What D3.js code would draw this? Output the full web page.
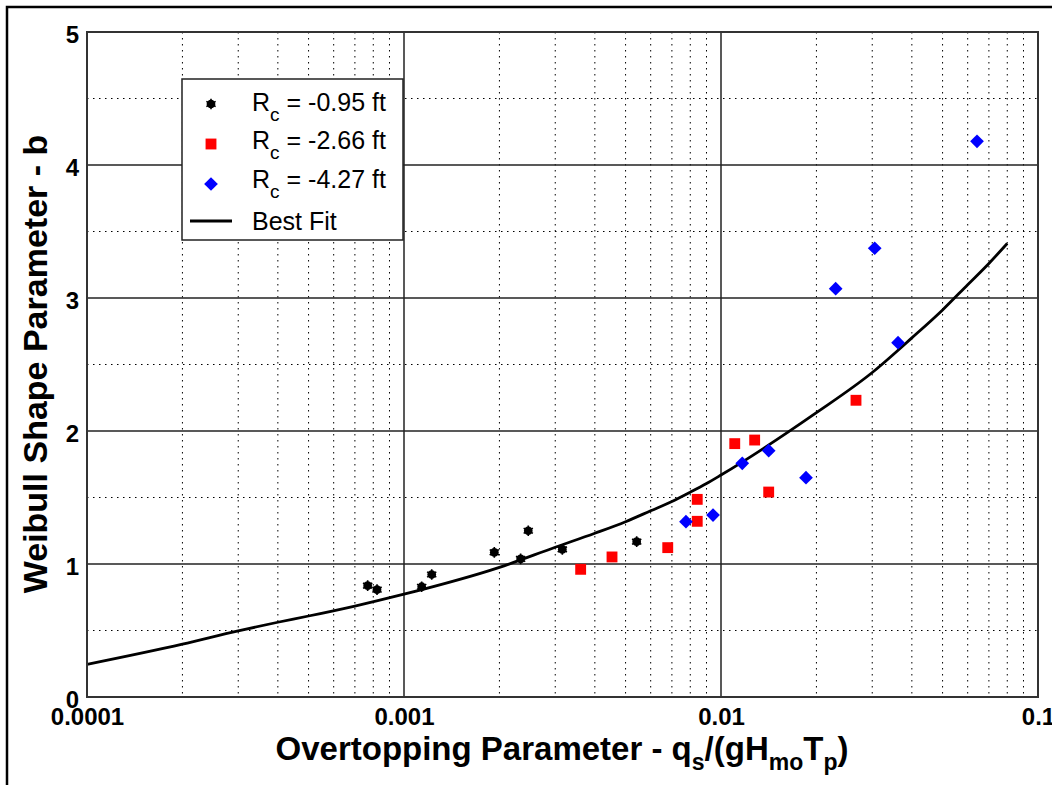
<!DOCTYPE html>
<html>
<head>
<meta charset="utf-8">
<script src="https://cdn.jsdelivr.net/npm/d3@7"></script>
<style>
  body { margin: 0; background: #fff; }
  svg { display: block; font-family: "Liberation Sans", Arial, sans-serif; }
</style>
</head>
<body>
<script>
'use strict';

// axis ticks
const xTickValues = [0.0001, 0.001, 0.01, 0.1];
const xTickLabels = ["0.0001", "0.001", "0.01", "0.1"];
const yTickValues = [0, 1, 2, 3, 4, 5];

// Rc = -0.95 ft
const blackX = [0.000768, 0.000822, 0.001137, 0.001223, 0.001927, 0.002333, 0.002466, 0.003158, 0.00542];
const blackY = [0.837, 0.807, 0.829, 0.921, 1.088, 1.038, 1.250, 1.110, 1.168];

// Rc = -2.66 ft
const redX = [0.003608, 0.004531, 0.006792, 0.008415, 0.008415, 0.01105, 0.01277, 0.01414, 0.02666];
const redY = [0.960, 1.053, 1.123, 1.486, 1.321, 1.905, 1.932, 1.541, 2.231];

// Rc = -4.27 ft
const blueX = [0.007753, 0.009437, 0.01167, 0.01414, 0.01854, 0.02300, 0.03054, 0.03618, 0.06421];
const blueY = [1.318, 1.368, 1.757, 1.852, 1.649, 3.070, 3.374, 2.664, 4.178];

// best fit curve
const fitX = [0.0001, 0.0002, 0.0003, 0.0004, 0.0005, 0.0007, 0.001, 0.002, 0.003, 0.004, 0.005,
  0.006, 0.007, 0.008, 0.009, 0.01, 0.02, 0.03, 0.04, 0.05, 0.06, 0.07, 0.08];
const fitY = [0.246, 0.398, 0.498, 0.562, 0.609, 0.684, 0.773, 0.975, 1.126, 1.231, 1.318,
  1.40, 1.47, 1.54, 1.605, 1.669, 2.138, 2.44, 2.70, 2.91, 3.10, 3.26, 3.41];

const legendLabels = ["-0.95 ft", "-2.66 ft", "-4.27 ft", "Best Fit"];

(function () {
  let svg = d3.select("body").append("svg")
    .attr("width", 1052)
    .attr("height", 785);

  let left = 87, right = 1038, top = 32, bottom = 697;

  let xScale = d3.scaleLog().domain([0.0001, 0.1]).range([left, right]);
  let yScale = d3.scaleLinear().domain([0, 5]).range([bottom, top]);

  // outer frame (only left/top edges show in the picture)
  svg.append("rect")
    .attr("x", 7).attr("y", 7)
    .attr("width", 1200).attr("height", 1000)
    .attr("fill", "none")
    .attr("stroke", "#000")
    .attr("stroke-width", 2.5);

  // minor grid
  let minorX = [];
  for (let d = 0.0001; d < 0.1; d *= 10) {
    for (let k = 2; k <= 9; k++) minorX.push(d * k);
  }
  let minorY = [0.5, 1.5, 2.5, 3.5, 4.5];

  let grid = svg.append("g");
  grid.selectAll(".minx").data(minorX).enter().append("line")
    .attr("x1", (d) => xScale(d)).attr("x2", (d) => xScale(d))
    .attr("y1", top).attr("y2", bottom)
    .attr("stroke", "#000").attr("stroke-width", 1)
    .attr("stroke-dasharray", "1.5,4.5");
  grid.selectAll(".miny").data(minorY).enter().append("line")
    .attr("x1", left).attr("x2", right)
    .attr("y1", (d) => yScale(d)).attr("y2", (d) => yScale(d))
    .attr("stroke", "#000").attr("stroke-width", 1)
    .attr("stroke-dasharray", "1.5,4.5");

  // major grid
  grid.selectAll(".majx").data(xTickValues).enter().append("line")
    .attr("x1", (d) => xScale(d)).attr("x2", (d) => xScale(d))
    .attr("y1", top).attr("y2", bottom)
    .attr("stroke", "#222").attr("stroke-width", 1.5);
  grid.selectAll(".majy").data(yTickValues).enter().append("line")
    .attr("x1", left).attr("x2", right)
    .attr("y1", (d) => yScale(d)).attr("y2", (d) => yScale(d))
    .attr("stroke", "#222").attr("stroke-width", 1.5);

  // axes with labels only
  let xAxis = d3.axisBottom(xScale)
    .tickValues(xTickValues)
    .tickSize(0)
    .tickFormat((d, i) => xTickLabels[i]);
  let gx = svg.append("g")
    .attr("transform", "translate(0," + bottom + ")")
    .call(xAxis);
  gx.select(".domain").remove();
  gx.selectAll("text")
    .attr("y", 28).attr("dy", 0)
    .attr("fill", "#000")
    .style("font-size", "24px")
    .style("font-weight", "bold")
    .style("font-family", "'Liberation Sans', Arial, sans-serif");

  let yAxis = d3.axisLeft(yScale)
    .tickValues(yTickValues)
    .tickSize(0)
    .tickFormat(d3.format("d"));
  let gy = svg.append("g")
    .attr("transform", "translate(" + left + ",0)")
    .call(yAxis);
  gy.select(".domain").remove();
  gy.selectAll("text")
    .attr("x", -8).attr("dy", 10)
    .attr("fill", "#000")
    .style("font-size", "24px")
    .style("font-weight", "bold")
    .style("font-family", "'Liberation Sans', Arial, sans-serif");

  // best fit
  let line = d3.line()
    .x((d) => xScale(d[0]))
    .y((d) => yScale(d[1]))
    .curve(d3.curveMonotoneX);
  svg.append("path")
    .datum(fitX.map((x, i) => [x, fitY[i]]))
    .attr("fill", "none")
    .attr("stroke", "#000")
    .attr("stroke-width", 2.8)
    .attr("d", line);

  // markers
  let dotPath = d3.symbol().type(d3.symbolCircle).size(60);
  let starPath = d3.symbol().type(d3.symbolAsterisk).size(80);
  let squarePath = d3.symbol().type(d3.symbolSquare).size(118);
  let diamondPath = d3.symbol().type(d3.symbolDiamond2).size(120);

  function blackMarker(g) {
    g.append("path").attr("d", dotPath).attr("fill", "#000");
    g.append("path").attr("d", starPath).attr("fill", "none")
      .attr("stroke", "#000").attr("stroke-width", 1.6);
  }

  svg.selectAll(".blk").data(blackX.map((x, i) => [x, blackY[i]])).enter()
    .append("g")
    .attr("transform", (d) => "translate(" + xScale(d[0]) + "," + yScale(d[1]) + ")")
    .each(function () { blackMarker(d3.select(this)); });

  svg.selectAll(".red").data(redX.map((x, i) => [x, redY[i]])).enter()
    .append("path")
    .attr("transform", (d) => "translate(" + xScale(d[0]) + "," + yScale(d[1]) + ")")
    .attr("d", squarePath)
    .attr("fill", "#ff0000");

  svg.selectAll(".blue").data(blueX.map((x, i) => [x, blueY[i]])).enter()
    .append("path")
    .attr("transform", (d) => "translate(" + xScale(d[0]) + "," + yScale(d[1]) + ")")
    .attr("d", diamondPath)
    .attr("fill", "#0000ff");

  // plot frame
  svg.append("rect")
    .attr("x", left).attr("y", top)
    .attr("width", right - left).attr("height", bottom - top)
    .attr("fill", "none")
    .attr("stroke", "#333")
    .attr("stroke-width", 2);

  // legend
  let legend = svg.append("g");
  legend.append("rect")
    .attr("x", 182).attr("y", 79)
    .attr("width", 221).attr("height", 161)
    .attr("fill", "#fff")
    .attr("stroke", "#222")
    .attr("stroke-width", 1.5);

  let rowY = [104, 144, 184, 221];
  let baseY = [111, 149, 188, 230];

  blackMarker(legend.append("g").attr("transform", "translate(211," + rowY[0] + ")"));
  legend.append("path").attr("d", squarePath)
    .attr("transform", "translate(211," + rowY[1] + ")").attr("fill", "#ff0000");
  legend.append("path").attr("d", diamondPath)
    .attr("transform", "translate(211," + rowY[2] + ")").attr("fill", "#0000ff");
  legend.append("line")
    .attr("x1", 190).attr("x2", 232)
    .attr("y1", rowY[3]).attr("y2", rowY[3])
    .attr("stroke", "#000").attr("stroke-width", 2.8);

  for (let i = 0; i < 3; i++) {
    let t = legend.append("text")
      .attr("x", 252).attr("y", baseY[i])
      .style("font-size", "25px");
    t.append("tspan").text("R");
    t.append("tspan").attr("dy", 10).style("font-size", "19px").text("c");
    t.append("tspan").attr("dy", -10).text(" = " + legendLabels[i]);
  }
  legend.append("text")
    .attr("x", 252).attr("y", baseY[3])
    .style("font-size", "25px")
    .text(legendLabels[3]);

  // axis titles
  let xt = svg.append("text")
    .attr("x", 562).attr("y", 760)
    .attr("text-anchor", "middle")
    .style("font-size", "33px")
    .style("font-weight", "bold");
  xt.append("tspan").text("Overtopping Parameter - q");
  xt.append("tspan").attr("dy", 10).style("font-size", "23px").text("s");
  xt.append("tspan").attr("dy", -10).text("/(gH");
  xt.append("tspan").attr("dy", 10).style("font-size", "23px").text("mo");
  xt.append("tspan").attr("dy", -10).text("T");
  xt.append("tspan").attr("dy", 10).style("font-size", "23px").text("p");
  xt.append("tspan").attr("dy", -10).text(")");

  svg.append("text")
    .attr("transform", "translate(47,364)rotate(-90)")
    .attr("text-anchor", "middle")
    .style("font-size", "34px")
    .style("font-weight", "bold")
    .text("Weibull Shape Parameter - b");
})();
</script>
</body>
</html>
